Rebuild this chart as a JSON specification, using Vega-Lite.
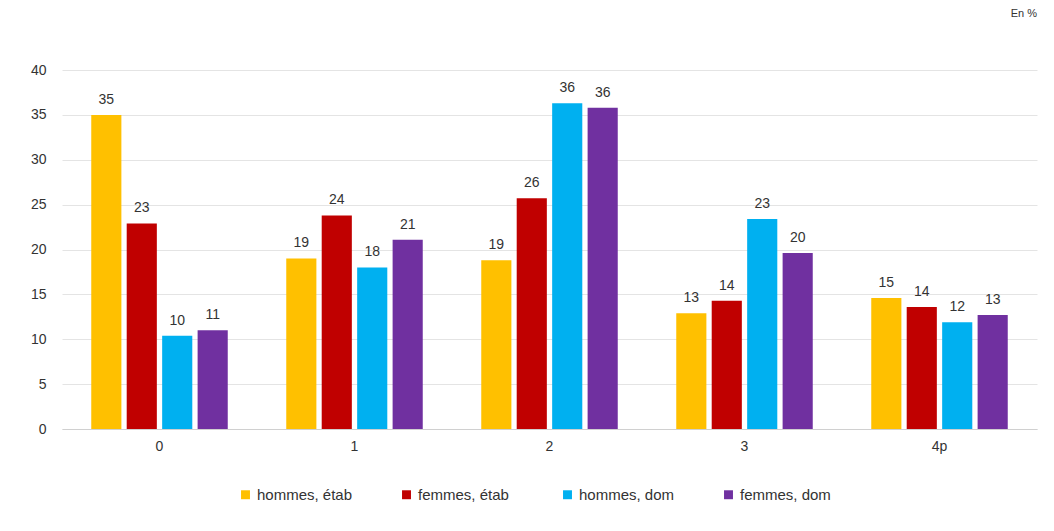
{
  "$schema": "https://vega.github.io/schema/vega-lite/v6.json",
  "width": 975,
  "height": 359,
  "autosize": {"type": "none"},
  "padding": {"left": 62, "top": 70, "right": 17, "bottom": 102},
  "background": "white",
  "title": {"text": "En %", "anchor": "end", "offset": 44, "fontSize": 11, "fontWeight": "normal", "color": "#333", "font": "Liberation Sans Narrow, Liberation Sans"},
  "config": {
    "font": "Liberation Sans Narrow, Liberation Sans",
    "view": {"stroke": null}
  },
  "data": {"values": [
    {"cat": "0", "serie": "hommes, étab", "v": 35.0},
    {"cat": "0", "serie": "femmes, étab", "v": 22.9},
    {"cat": "0", "serie": "hommes, dom", "v": 10.4},
    {"cat": "0", "serie": "femmes, dom", "v": 11.0},
    {"cat": "1", "serie": "hommes, étab", "v": 19.0},
    {"cat": "1", "serie": "femmes, étab", "v": 23.8},
    {"cat": "1", "serie": "hommes, dom", "v": 18.0},
    {"cat": "1", "serie": "femmes, dom", "v": 21.1},
    {"cat": "2", "serie": "hommes, étab", "v": 18.8},
    {"cat": "2", "serie": "femmes, étab", "v": 25.7},
    {"cat": "2", "serie": "hommes, dom", "v": 36.3},
    {"cat": "2", "serie": "femmes, dom", "v": 35.8},
    {"cat": "3", "serie": "hommes, étab", "v": 12.9},
    {"cat": "3", "serie": "femmes, étab", "v": 14.3},
    {"cat": "3", "serie": "hommes, dom", "v": 23.4},
    {"cat": "3", "serie": "femmes, dom", "v": 19.6},
    {"cat": "4p", "serie": "hommes, étab", "v": 14.6},
    {"cat": "4p", "serie": "femmes, étab", "v": 13.6},
    {"cat": "4p", "serie": "hommes, dom", "v": 11.9},
    {"cat": "4p", "serie": "femmes, dom", "v": 12.7}
  ]},
  "encoding": {
    "x": {"field": "cat", "type": "nominal", "sort": null,
      "scale": {"paddingInner": 0.3, "paddingOuter": 0.15},
      "axis": {"title": null, "labelAngle": 0, "ticks": false, "domainColor": "#d0d0d0", "labelFontSize": 14, "labelColor": "#333", "labelPadding": 10, "grid": false}},
    "xOffset": {"field": "serie", "type": "nominal", "sort": ["hommes, étab", "femmes, étab", "hommes, dom", "femmes, dom"], "scale": {"paddingInner": 0.15}},
    "y": {"field": "v", "type": "quantitative",
      "scale": {"domain": [0, 40]},
      "axis": {"title": null, "values": [0, 5, 10, 15, 20, 25, 30, 35, 40], "domain": false, "ticks": false, "gridColor": "#e4e4e4", "labelFontSize": 14, "labelColor": "#333", "labelPadding": 16}}
  },
  "layer": [
    {
      "mark": {"type": "bar"},
      "encoding": {
        "color": {"field": "serie", "type": "nominal",
          "scale": {"domain": ["hommes, étab", "femmes, étab", "hommes, dom", "femmes, dom"], "range": ["#FFC000", "#C00000", "#00B0F0", "#7030A0"]},
          "legend": {"title": null, "orient": "none", "legendX": 176, "legendY": 417, "direction": "horizontal", "gridAlign": "all", "symbolType": "square", "symbolSize": 80, "labelFontSize": 15, "labelColor": "#333", "columnPadding": 46}}
      }
    },
    {
      "mark": {"type": "text", "baseline": "bottom", "dy": -8, "fontSize": 14, "color": "#333"},
      "encoding": {"text": {"field": "v", "type": "quantitative", "format": ".0f"}}
    }
  ]
}
